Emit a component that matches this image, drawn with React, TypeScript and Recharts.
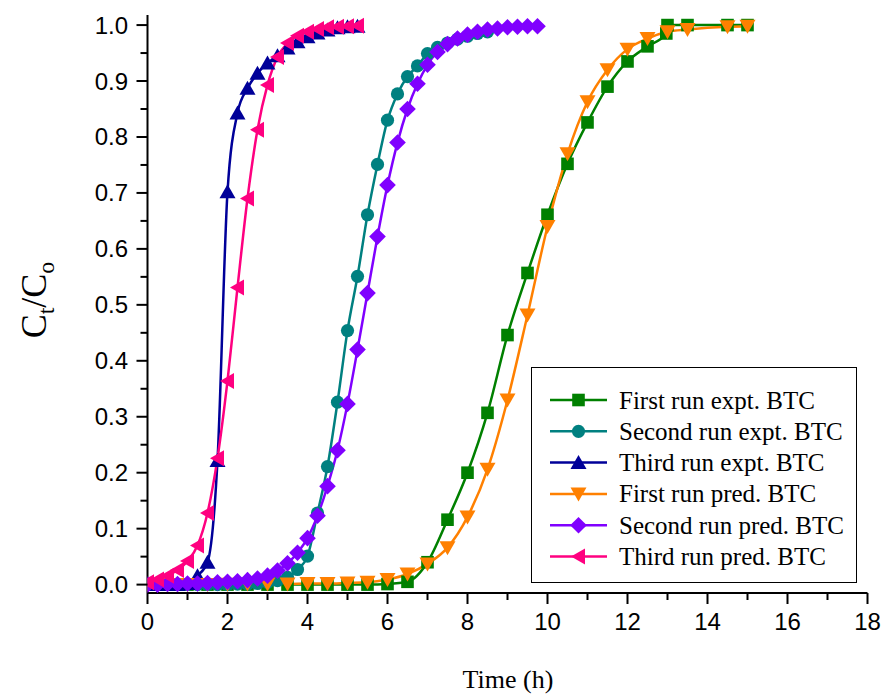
import React from 'react';
import { LineChart, Line, XAxis, YAxis, Legend } from 'recharts';

// Breakthrough curves: C_t/C_o versus time (h) for three adsorption runs,
// experimental points and model predictions.

const firstExptTime = [0, 0.5, 1, 1.5, 2, 2.5, 3, 3.5, 4, 4.5, 5, 5.5, 6, 6.5, 7, 7.5, 8, 8.5, 9, 9.5, 10, 10.5, 11, 11.5, 12, 12.5, 12.97, 13, 13.5, 14.5, 15];
const firstExptValue = [0, 0, 0, 0, 0, 0, 0, 0, 0, 0, 0, 0, 0.001, 0.005, 0.04, 0.116, 0.2, 0.307, 0.446, 0.557, 0.661, 0.752, 0.826, 0.89, 0.935, 0.962, 0.985, 1.0, 1.0, 1.0, 1.0];

const firstPredTime = [0, 0.5, 1, 1.5, 2, 2.5, 3, 3.5, 4, 4.5, 5, 5.5, 6, 6.5, 7, 7.5, 8, 8.5, 9, 9.5, 10, 10.5, 11, 11.5, 12, 12.5, 13, 13.5, 14.5, 15];
const firstPredValue = [0, 0, 0, 0, 0.0005, 0.001, 0.001, 0.001, 0.002, 0.002, 0.003, 0.004, 0.009, 0.019, 0.037, 0.066, 0.121, 0.206, 0.33, 0.482, 0.64, 0.77, 0.863, 0.92, 0.957, 0.976, 0.988, 0.992, 0.997, 0.998];

const secondExptTime = [0, 0.25, 0.5, 0.75, 1, 1.25, 1.5, 1.75, 2, 2.25, 2.5, 2.75, 3, 3.25, 3.5, 3.75, 4, 4.25, 4.5, 4.75, 5, 5.25, 5.5, 5.75, 6, 6.25, 6.5, 6.75, 7, 7.25, 7.5, 7.75, 8, 8.25, 8.5];
const secondExptValue = [0, 0, 0, 0, 0, 0, 0, 0, 0, 0.001, 0.001, 0.002, 0.004, 0.007, 0.013, 0.027, 0.051, 0.128, 0.211, 0.326, 0.454, 0.551, 0.661, 0.751, 0.83, 0.877, 0.908, 0.927, 0.949, 0.96, 0.968, 0.975, 0.98, 0.985, 0.988];

const secondPredTime = [0, 0.25, 0.5, 0.75, 1, 1.25, 1.5, 1.75, 2, 2.25, 2.5, 2.75, 3, 3.25, 3.5, 3.75, 4, 4.25, 4.5, 4.75, 5, 5.25, 5.5, 5.75, 6, 6.25, 6.5, 6.75, 7, 7.25, 7.5, 7.75, 8, 8.25, 8.5, 8.75, 9, 9.25, 9.5, 9.75];
const secondPredValue = [0, 0, 0.001, 0.001, 0.002, 0.002, 0.003, 0.004, 0.005, 0.006, 0.008, 0.011, 0.016, 0.025, 0.038, 0.057, 0.083, 0.123, 0.176, 0.24, 0.323, 0.42, 0.521, 0.622, 0.714, 0.79, 0.85, 0.895, 0.929, 0.952, 0.966, 0.976, 0.983, 0.988, 0.992, 0.994, 0.996, 0.997, 0.998, 0.998];

const thirdExptTime = [0, 0.25, 0.5, 0.75, 1, 1.25, 1.5, 1.75, 2, 2.25, 2.5, 2.75, 3, 3.25, 3.5, 3.75, 4, 4.25, 4.5, 4.75, 5, 5.25];
const thirdExptValue = [0, 0, 0, 0, 0.002, 0.016, 0.04, 0.222, 0.702, 0.843, 0.887, 0.914, 0.932, 0.945, 0.959, 0.97, 0.979, 0.986, 0.991, 0.995, 0.997, 0.998];

const thirdPredTime = [0, 0.25, 0.5, 0.75, 1, 1.25, 1.5, 1.75, 2, 2.25, 2.5, 2.75, 3, 3.25, 3.5, 3.75, 4, 4.25, 4.5, 4.75, 5, 5.25];
const thirdPredValue = [0.004, 0.009, 0.016, 0.026, 0.042, 0.07, 0.128, 0.226, 0.364, 0.531, 0.69, 0.813, 0.893, 0.943, 0.968, 0.981, 0.988, 0.993, 0.996, 0.997, 0.998, 0.999];

const seriesNames = [
  'First run expt. BTC',
  'Second run expt. BTC',
  'Third run expt. BTC',
  'First run pred. BTC',
  'Second run pred. BTC',
  'Third run pred. BTC',
];
const seriesColors = ['#008000', '#008080', '#000099', '#FF8000', '#8000FF', '#FF0080'];
const seriesShapes = ['square', 'circle', 'triangleUp', 'triangleDown', 'diamond', 'triangleLeft'];

const xTicks = [0, 1, 2, 3, 4, 5, 6, 7, 8, 9, 10, 11, 12, 13, 14, 15, 16, 17, 18];
const yTicks = [0, 0.05, 0.1, 0.15, 0.2, 0.25, 0.3, 0.35, 0.4, 0.45, 0.5, 0.55, 0.6, 0.65, 0.7, 0.75, 0.8, 0.85, 0.9, 0.95, 1.0];

const toRows = (times: number[], values: number[]) => times.map((t, i) => ({ t, v: values[i] }));

const seriesData = [
  toRows(firstExptTime, firstExptValue),
  toRows(secondExptTime, secondExptValue),
  toRows(thirdExptTime, thirdExptValue),
  toRows(firstPredTime, firstPredValue),
  toRows(secondPredTime, secondPredValue),
  toRows(thirdPredTime, thirdPredValue),
];

const SANS = '"Liberation Sans", Arial, sans-serif';
const SERIF = '"Liberation Serif", "Times New Roman", serif';

function Marker({ shape, cx, cy, fill }: { shape: string; cx: number; cy: number; fill: string }) {
  if (cx == null || cy == null || isNaN(cx) || isNaN(cy)) return null;
  switch (shape) {
    case 'square':
      return <rect x={cx - 6.3} y={cy - 6.3} width={12.6} height={12.6} fill={fill} />;
    case 'circle':
      return <circle cx={cx} cy={cy} r={6.6} fill={fill} />;
    case 'triangleUp':
      return <polygon points={`${cx},${cy - 7.5} ${cx + 8},${cy + 6.5} ${cx - 8},${cy + 6.5}`} fill={fill} />;
    case 'triangleDown':
      return <polygon points={`${cx},${cy + 7.5} ${cx + 8},${cy - 6.5} ${cx - 8},${cy - 6.5}`} fill={fill} />;
    case 'diamond':
      return <polygon points={`${cx},${cy - 8.3} ${cx + 8.3},${cy} ${cx},${cy + 8.3} ${cx - 8.3},${cy}`} fill={fill} />;
    case 'triangleLeft':
      return <polygon points={`${cx - 7.5},${cy} ${cx + 6.5},${cy - 8} ${cx + 6.5},${cy + 8}`} fill={fill} />;
    default:
      return null;
  }
}

function XTick(props: any) {
  const { x, y, payload } = props;
  const v = payload.value as number;
  const major = v % 2 === 0;
  return (
    <g>
      <line x1={x} x2={x} y1={y} y2={y + (major ? 11 : 7)} stroke="#000" strokeWidth={2} />
      {major && (
        <text x={x} y={y + 37} textAnchor="middle" fontFamily={SANS} fontSize={24} fill="#000">
          {v}
        </text>
      )}
    </g>
  );
}

function YTick(props: any) {
  const { x, y, payload } = props;
  const v = payload.value as number;
  const major = Math.round(v * 100) % 10 === 0;
  return (
    <g>
      <line x1={x} x2={x - (major ? 11 : 7)} y1={y} y2={y} stroke="#000" strokeWidth={2} />
      {major && (
        <text x={x - 19.5} y={y + 8.5} textAnchor="end" fontFamily={SANS} fontSize={24} fill="#000">
          {v.toFixed(1)}
        </text>
      )}
    </g>
  );
}

function LegendBox() {
  return (
    <div
      style={{
        width: 326,
        height: 216,
        border: '1.5px solid #000',
        background: '#fff',
        boxSizing: 'border-box',
      }}
    >
      <svg width={323} height={213} style={{ display: 'block' }}>
        {seriesNames.map((name, i) => {
          const cy = 32 + i * 31.3;
          return (
            <g key={name}>
              <line x1={18} x2={75} y1={cy} y2={cy} stroke={seriesColors[i]} strokeWidth={2.5} />
              <Marker shape={seriesShapes[i]} cx={46.5} cy={cy} fill={seriesColors[i]} />
              <text x={87} y={cy + 8.5} fontFamily={SERIF} fontSize={25} fill="#000">
                {name}
              </text>
            </g>
          );
        })}
      </svg>
    </div>
  );
}

export default function App() {
  return (
    <div style={{ position: 'absolute', left: 0, top: 0, background: '#fff' }}>
      <LineChart width={886} height={695} margin={{ top: 15, right: 18.5, bottom: 62, left: 87.5 }}>
        <XAxis
          type="number"
          dataKey="t"
          domain={[0, 18]}
          allowDataOverflow
          ticks={xTicks}
          interval={0}
          height={40}
          tickSize={0}
          tickMargin={0}
          tickLine={false}
          axisLine={{ stroke: '#000', strokeWidth: 2 }}
          tick={<XTick />}
          label={{
            content: () => (
              <text x={508} y={688} textAnchor="middle" fontFamily={SERIF} fontSize={26} fill="#000">
                Time (h)
              </text>
            ),
          }}
        />
        <YAxis
          type="number"
          domain={[-0.015, 1.018]}
          allowDataOverflow
          ticks={yTicks}
          interval={0}
          width={60}
          tickSize={0}
          tickMargin={0}
          tickLine={false}
          axisLine={{ stroke: '#000', strokeWidth: 2 }}
          tick={<YTick />}
          label={{
            content: () => (
              <text transform="translate(46,300) rotate(-90)" textAnchor="middle" fontFamily={SERIF} fontSize={36} fill="#000">
                C
                <tspan fontSize={24} dy={8}>t</tspan>
                <tspan dy={-8}>/C</tspan>
                <tspan fontSize={24} dy={8}>o</tspan>
              </text>
            ),
          }}
        />
        <Legend
          layout="vertical"
          align="center"
          verticalAlign="middle"
          wrapperStyle={{ left: 531, top: 367, width: 326, height: 216 }}
          content={() => <LegendBox />}
        />
        {seriesData.map((rows, i) => (
          <Line
            key={seriesNames[i]}
            name={seriesNames[i]}
            data={rows}
            dataKey="v"
            type="monotone"
            stroke={seriesColors[i]}
            strokeWidth={2.5}
            isAnimationActive={false}
            dot={(p: any) => (
              <Marker key={`${i}-${p.index}`} shape={seriesShapes[i]} cx={p.cx} cy={p.cy} fill={seriesColors[i]} />
            )}
            activeDot={false}
          />
        ))}
      </LineChart>
    </div>
  );
}
